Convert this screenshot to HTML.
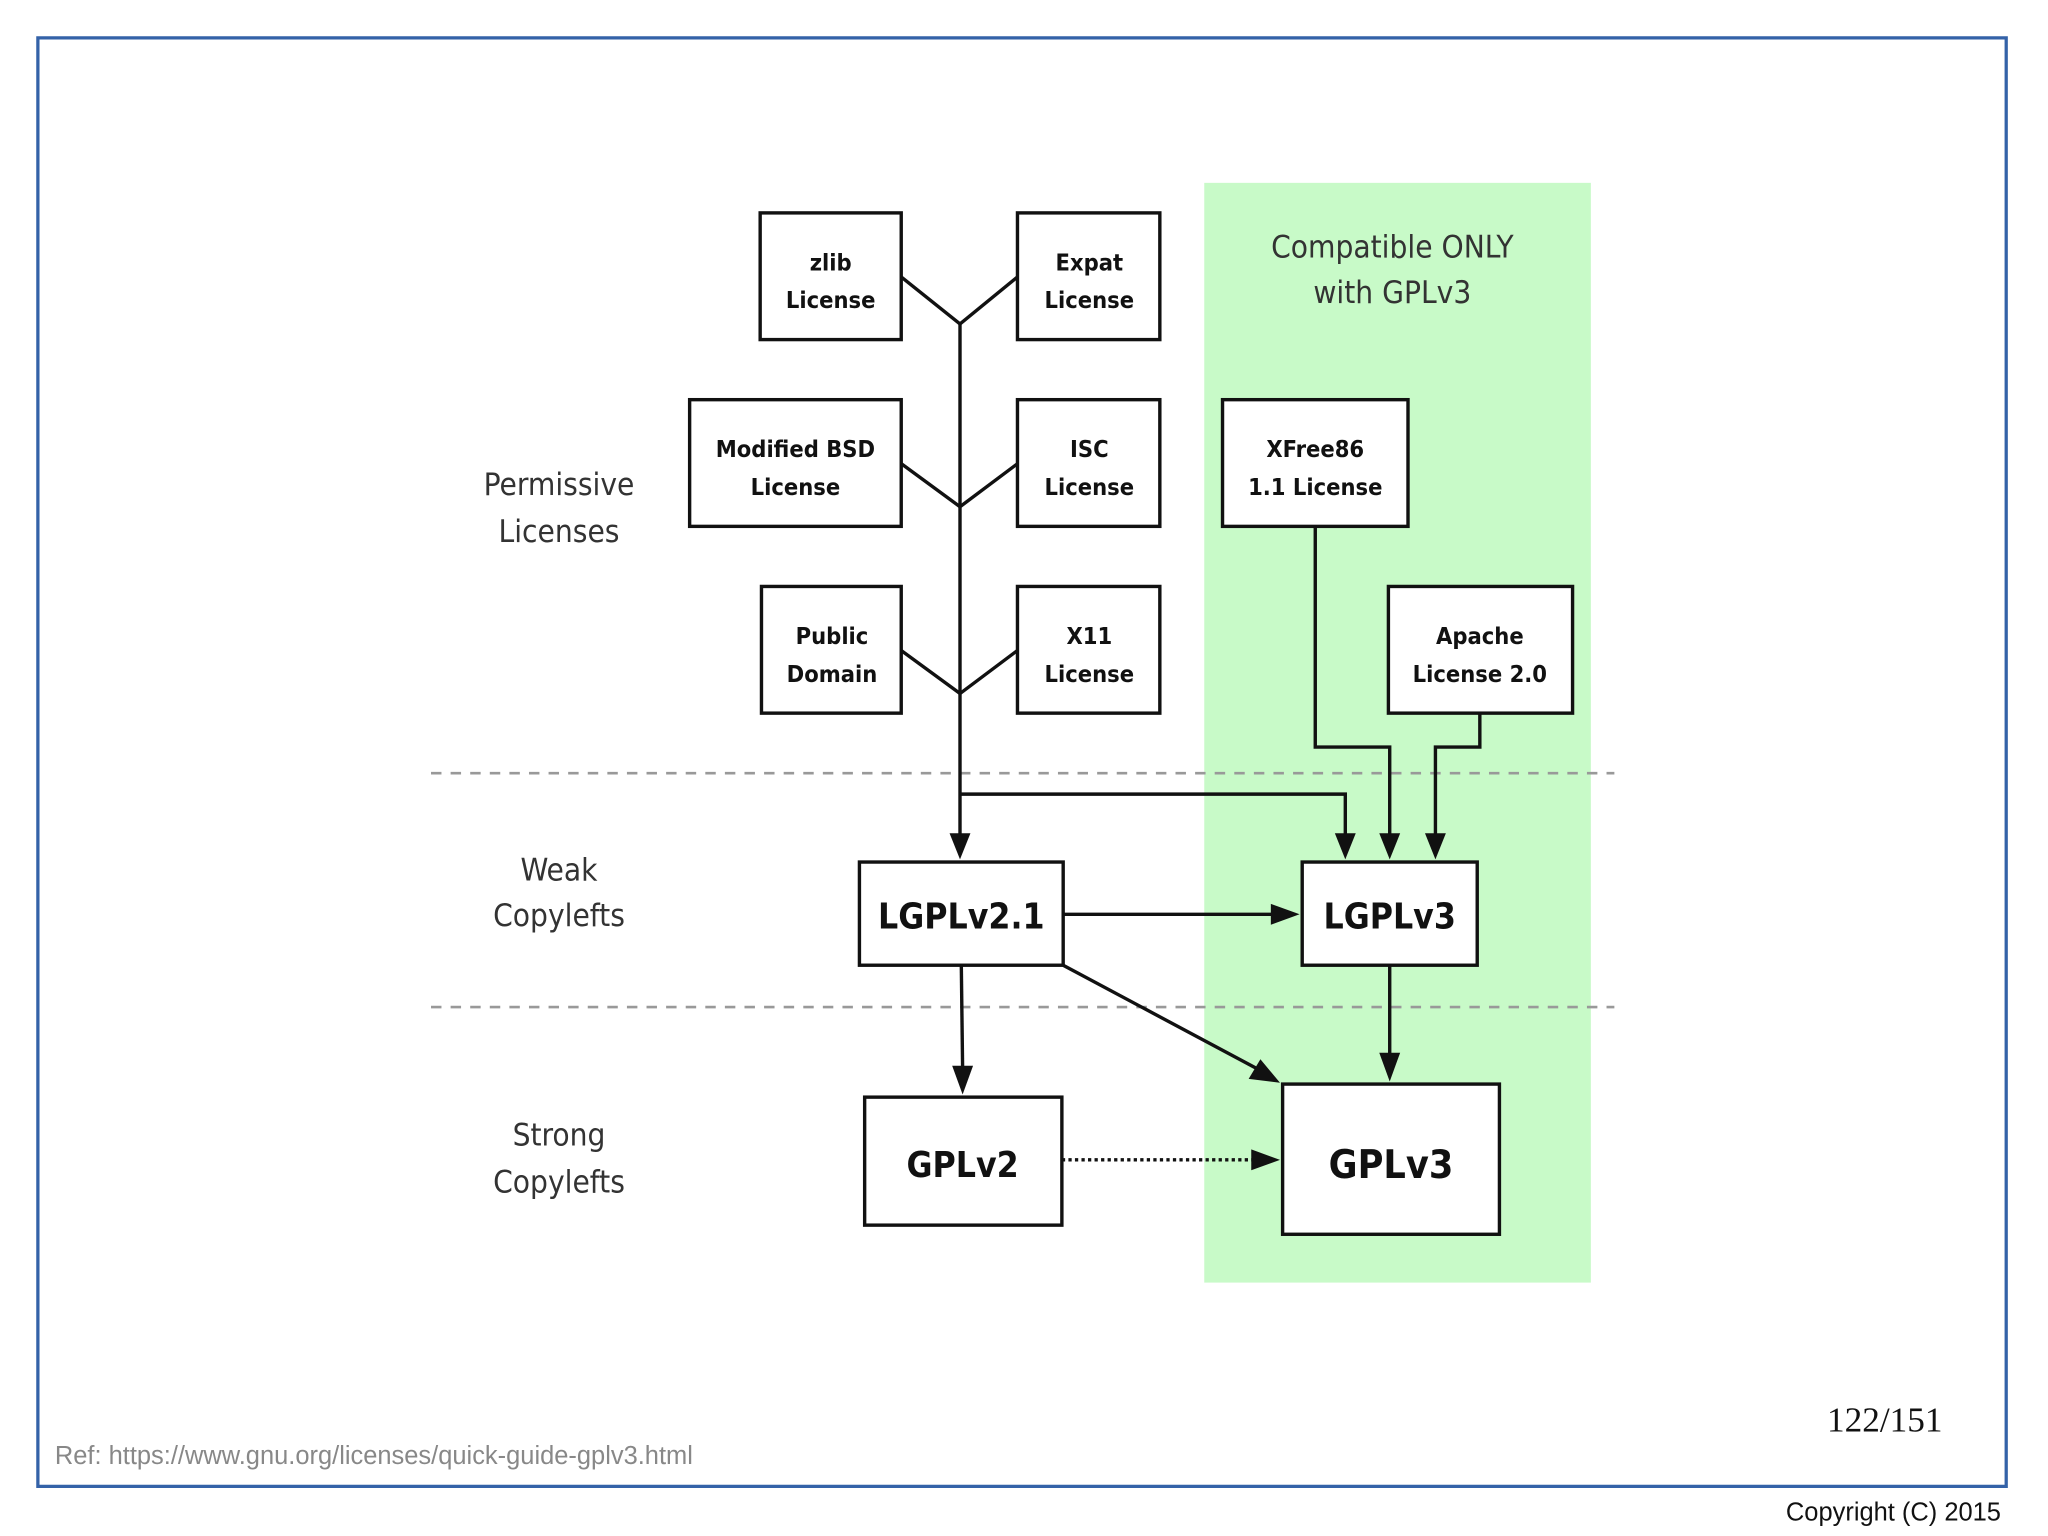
<!DOCTYPE html>
<html><head><meta charset="utf-8"><style>
html,body{margin:0;padding:0;background:#fff;}
svg{display:block;}
</style></head><body>
<svg width="2048" height="1536" viewBox="0 0 1568 1176" xmlns="http://www.w3.org/2000/svg">
<rect x="0" y="0" width="1568" height="1176" fill="#fff"/>
<rect x="29" y="29" width="1507" height="1109" fill="none" stroke="#3462a8" stroke-width="2.5"/>
<rect x="922" y="140" width="296" height="842" fill="#c8fac8"/>
<g stroke="#999" stroke-width="2" stroke-dasharray="8,7">
<line x1="330" y1="592" x2="1236" y2="592"/>
<line x1="330" y1="771" x2="1236" y2="771"/>
</g>
<g font-family="'DejaVu Sans Condensed','DejaVu Sans',sans-serif" fill="#333" font-size="24" text-anchor="middle">
<text x="428" y="379">Permissive</text>
<text x="428" y="415">Licenses</text>
<text x="428" y="674">Weak</text>
<text x="428" y="709">Copylefts</text>
<text x="428" y="877">Strong</text>
<text x="428" y="913">Copylefts</text>
<text x="1066" y="197">Compatible ONLY</text>
<text x="1066" y="232">with GPLv3</text>
</g>
<g fill="#fff" stroke="#111" stroke-width="2.6">
<rect x="582" y="163" width="108" height="97"/>
<rect x="779" y="163" width="109" height="97"/>
<rect x="528" y="306" width="162" height="97"/>
<rect x="779" y="306" width="109" height="97"/>
<rect x="936" y="306" width="142" height="97"/>
<rect x="583" y="449" width="107" height="97"/>
<rect x="779" y="449" width="109" height="97"/>
<rect x="1063" y="449" width="141" height="97"/>
<rect x="658" y="660" width="156" height="79"/>
<rect x="997" y="660" width="134" height="79"/>
<rect x="662" y="840" width="151" height="98"/>
<rect x="982" y="830" width="166" height="115"/>
</g>
<g fill="none" stroke="#111" stroke-width="2.6">
<polyline points="690,212 735,248 779,212"/>
<polyline points="690,355 735,388 779,355"/>
<polyline points="690,498 735,531 779,498"/>
<line x1="735" y1="248" x2="735" y2="640"/>
<polyline points="735,608 1030,608 1030,640"/>
<polyline points="1007,403 1007,572 1064,572 1064,640"/>
<polyline points="1133,546 1133,572 1099,572 1099,640"/>
<line x1="814" y1="700" x2="975" y2="700"/>
<line x1="814" y1="739" x2="962" y2="818"/>
<line x1="736" y1="739" x2="737" y2="818"/>
<line x1="1064" y1="739" x2="1064" y2="808"/>
<line x1="813" y1="888" x2="960" y2="888" stroke-dasharray="2.5,2.5"/>
</g>
<g fill="#111">
<polygon points="727,638 743,638 735,658"/>
<polygon points="1022,638 1038,638 1030,658"/>
<polygon points="1056,638 1072,638 1064,658"/>
<polygon points="1091,638 1107,638 1099,658"/>
<polygon points="973,692 973,708 995,700"/>
<polygon points="729,816 745,816 737,838"/>
<polygon points="1056,806 1072,806 1064,828"/>
<polygon points="956,826 965,811 980,829"/>
<polygon points="958,880 958,896 980,888"/>
</g>
<g font-family="'DejaVu Sans Condensed','DejaVu Sans',sans-serif" font-weight="bold" fill="#111" font-size="18" text-anchor="middle">
<text x="636" y="207">zlib</text><text x="636" y="236">License</text>
<text x="834" y="207">Expat</text><text x="834" y="236">License</text>
<text x="609" y="350">Modified BSD</text><text x="609" y="379">License</text>
<text x="834" y="350">ISC</text><text x="834" y="379">License</text>
<text x="1007" y="350">XFree86</text><text x="1007" y="379">1.1 License</text>
<text x="637" y="493">Public</text><text x="637" y="522">Domain</text>
<text x="834" y="493">X11</text><text x="834" y="522">License</text>
<text x="1133" y="493">Apache</text><text x="1133" y="522">License 2.0</text>
<text x="736" y="711" font-size="27">LGPLv2.1</text>
<text x="1064" y="711" font-size="27">LGPLv3</text>
<text x="737" y="901" font-size="27">GPLv2</text>
<text x="1065" y="902" font-size="30">GPLv3</text>
</g>
<text x="1443" y="1096" font-family="'Liberation Serif',serif" font-size="27" text-anchor="middle" fill="#111">122/151</text>
<text x="42" y="1121" font-family="'Liberation Sans',sans-serif" font-size="19.5" fill="#888">Ref: https://www.gnu.org/licenses/quick-guide-gplv3.html</text>
<text x="1532" y="1164" font-family="'Liberation Sans',sans-serif" font-size="19.5" text-anchor="end" fill="#111">Copyright (C) 2015</text>
</svg>
</body></html>
